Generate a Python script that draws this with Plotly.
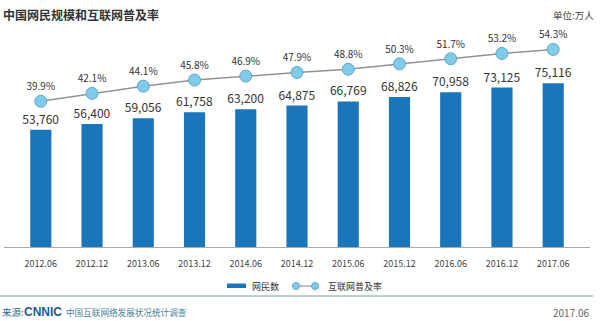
import plotly.graph_objects as go

categories = ["2012.06", "2012.12", "2013.06", "2013.12", "2014.06", "2014.12",
              "2015.06", "2015.12", "2016.06", "2016.12", "2017.06"]
netizens = [53760, 56400, 59056, 61758, 63200, 64875, 66769, 68826, 70958, 73125, 75116]
penetration = [39.9, 42.1, 44.1, 45.8, 46.9, 47.9, 48.8, 50.3, 51.7, 53.2, 54.3]

W, H = 600, 321
L, R, T, B = 4, 10, 30, 74
PW, PH = W - L - R, H - T - B

def px(x):
    return (x - L) / PW

def py(y):
    return (H - B - y) / PH

FONT = "Noto Sans CJK SC"
BAR = "#1b75bb"

fig = go.Figure()
fig.add_trace(go.Bar(
    x=categories, y=netizens,
    marker=dict(color=BAR, line=dict(width=0)),
    text=[f"{v:,}" for v in netizens], textposition="outside",
    constraintext="none",
    textfont=dict(family=FONT, size=12, color="#333"),
    cliponaxis=False, showlegend=False,
))
fig.add_trace(go.Scatter(
    x=categories, y=penetration, yaxis="y2",
    mode="lines+markers+text",
    line=dict(color="#939393", width=1.5),
    marker=dict(size=12, color="#80cbea", line=dict(color="#5fa8c8", width=1)),
    text=[f"{v}%" for v in penetration], textposition="top center",
    textfont=dict(family=FONT, size=10, color="#333"),
    cliponaxis=False, showlegend=False,
))

shapes = [
    dict(type="rect", xref="paper", yref="paper", x0=px(227), x1=px(246), y0=py(288), y1=py(283.5),
         fillcolor=BAR, line=dict(width=0)),
    dict(type="line", xref="paper", yref="paper", x0=px(296), x1=px(315), y0=py(286), y1=py(286),
         line=dict(color="#939393", width=1.2)),
    dict(type="circle", xref="paper", yref="paper", x0=px(292.5), x1=px(299.5), y0=py(289.5), y1=py(282.5),
         fillcolor="#80cbea", line=dict(color="#5fa8c8", width=1)),
    dict(type="circle", xref="paper", yref="paper", x0=px(311.5), x1=px(318.5), y0=py(289.5), y1=py(282.5),
         fillcolor="#80cbea", line=dict(color="#5fa8c8", width=1)),
    dict(type="line", xref="paper", yref="paper", x0=px(0), x1=px(593), y0=py(296), y1=py(296),
         line=dict(color="#7f9f9f", width=1)),
]

def ann(text, x, y, size, color, xanchor="left", bold=False, family=FONT):
    return dict(text=f"<b>{text}</b>" if bold else text, x=px(x), y=py(y), xref="paper", yref="paper",
                xanchor=xanchor, yanchor="middle", showarrow=False,
                font=dict(family=family, size=size, color=color))

annotations = [
    ann("中国网民规模和互联网普及率", 1, 15, 12, "#333", bold=True),
    ann("单位:万人", 596, 15, 9.5, "#444", xanchor="right"),
    ann("网民数", 250, 286, 9, "#333"),
    ann("互联网普及率", 326, 286, 9, "#333"),
    ann("来源:", 0, 312, 9.5, "#2a6a8a"),
    ann("CNNIC", 22, 312, 12, "#1f5d8c", bold=True, family="Liberation Sans"),
    ann("中国互联网络发展状况统计调查", 64, 312, 8.6, "#4a7f96"),
    ann("2017.06", 592, 312, 10, "#666", xanchor="right"),
]

fig.update_layout(
    width=W, height=H,
    margin=dict(l=L, r=R, t=T, b=B),
    paper_bgcolor="white", plot_bgcolor="white",
    bargap=0.587,
    xaxis=dict(type="category", showline=True, linecolor="#aaa", linewidth=1,
               ticks="outside", ticklen=8, tickcolor="rgba(0,0,0,0)",
               tickfont=dict(family=FONT, size=9, color="#444"), showgrid=False),
    yaxis=dict(range=[0, 99540], visible=False, showgrid=False),
    yaxis2=dict(range=[-0.56, 59.7], overlaying="y", visible=False, showgrid=False),
    shapes=shapes, annotations=annotations,
    font=dict(family=FONT),
)

fig.write_html("out.html")
